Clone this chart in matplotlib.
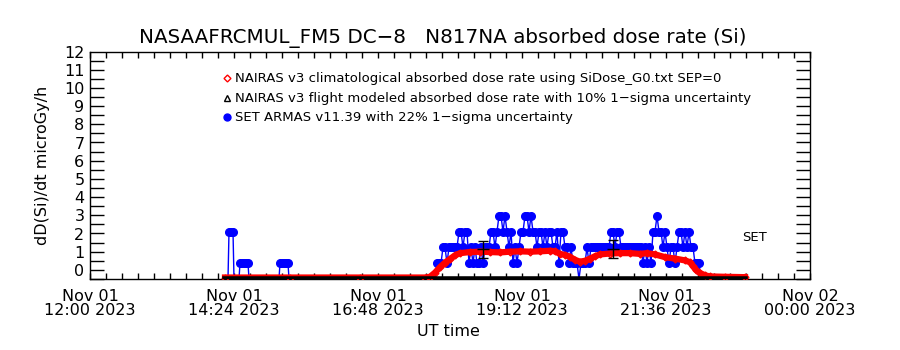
import matplotlib
matplotlib.use("Agg")
import matplotlib.pyplot as plt
import numpy as np
from matplotlib.ticker import MultipleLocator

# time axis in minutes after Nov 01 12:00 UT
major_ticks = [0, 144, 288, 432, 576, 720]
major_labels = ["Nov 01\n12:00 2023", "Nov 01\n14:24 2023", "Nov 01\n16:48 2023",
                "Nov 01\n19:12 2023", "Nov 01\n21:36 2023", "Nov 02\n00:00 2023"]

# NAIRAS v3 climatological absorbed dose rate (red)
clim_t = [135, 200, 270, 335, 340, 345, 350, 355, 360, 365, 370, 380, 390, 400, 410,
          420, 430, 440, 450, 460, 465, 470, 475, 480, 485, 490, 495, 500, 505, 510,
          520, 530, 540, 550, 557, 565, 575, 585, 595, 600, 603, 606, 610, 615, 620,
          635, 655]
clim_v = [0.08, 0.08, 0.08, 0.08, 0.12, 0.35, 0.65, 0.9, 1.1, 1.3, 1.42, 1.48, 1.5,
          1.48, 1.46, 1.5, 1.52, 1.5, 1.52, 1.55, 1.52, 1.38, 1.32, 1.22, 1.05, 0.95,
          1.0, 1.12, 1.25, 1.35, 1.4, 1.42, 1.42, 1.38, 1.42, 1.35, 1.2, 1.12, 1.02,
          0.92, 0.7, 0.5, 0.33, 0.2, 0.14, 0.12, 0.1]

# NAIRAS v3 flight modeled (black)
model_t = [135, 655]
model_v = [0.0, 0.0]
err_t = [393, 523]
err_v = [1.63, 1.64]
err_e = [0.48, 0.5]

# SET ARMAS v11.39 (blue)
set_t = [138, 139, 141, 143, 144, 149, 150, 152, 154, 156, 158, 159, 189, 190, 192,
         194, 196, 198, 199, 345, 347, 349, 351, 353, 355, 357, 359, 361, 363, 365, 367,
         369, 371, 373, 375, 377, 379, 381, 383, 385, 387, 389, 391, 393, 395, 397, 399,
         401, 403, 405, 407, 409, 411, 413, 415, 417, 419, 421, 423, 425, 427, 429, 431,
         433, 435, 437, 439, 441, 443, 445, 447, 449, 451, 453, 455, 457, 459, 461, 463,
         465, 467, 469, 471, 473, 475, 477, 479, 481, 483, 485, 487, 489, 491, 493, 495,
         497, 499, 501, 503, 505, 507, 509, 511, 513, 515, 517, 519, 521, 523, 525, 527,
         529, 531, 533, 535, 537, 539, 541, 543, 545, 547, 549, 551, 553, 555, 557, 559,
         561, 563, 565, 567, 569, 571, 573, 575, 577, 579, 581, 583, 585, 587, 589, 591,
         593, 595, 597, 599, 601, 603, 605, 607, 609, 611]
set_v = [0, 2.6, 2.6, 2.6, 0, 0, 0.87, 0.87, 0.87, 0.87, 0.87, 0, 0, 0.87, 0.87,
         0.87, 0.87, 0.87, 0, 0, 0.87, 0.87, 0.87, 1.74, 1.74, 0.87, 1.74, 1.74, 1.74, 1.74, 1.74,
         2.6, 2.6, 1.74, 2.6, 2.6, 0.87, 1.74, 0.87, 1.74, 0.87, 0.87, 1.74, 0.87, 1.74, 1.74, 1.74,
         2.6, 2.6, 1.74, 2.6, 3.47, 3.47, 2.6, 3.47, 2.6, 1.74, 2.6, 0.87, 1.74, 0.87, 1.74, 2.6,
         2.6, 3.47, 3.47, 2.6, 3.47, 2.6, 2.6, 1.74, 2.6, 2.6, 1.74, 2.6, 1.74, 2.6, 2.6, 1.74,
         1.74, 2.6, 0.87, 2.6, 2.6, 1.74, 1.74, 0.87, 1.74, 0.87, 0.87, 0.87, 0, 0.87, 0.87, 0.87,
         1.74, 0.87, 1.74, 1.74, 1.74, 1.74, 1.74, 1.74, 1.74, 1.74, 1.74, 1.74, 2.6, 2.6, 1.74, 2.6,
         2.6, 1.74, 1.74, 1.74, 1.74, 1.74, 1.74, 1.74, 1.74, 1.74, 1.74, 1.74, 0.87, 1.74, 0.87, 1.74,
         0.87, 2.6, 2.6, 3.47, 2.6, 2.6, 1.74, 2.6, 1.74, 0.87, 1.74, 1.74, 0.87, 1.74, 2.6, 2.6,
         1.74, 2.6, 1.74, 2.6, 1.74, 1.74, 0.87, 0.87, 0.87, 0]

legend_texts = ["NAIRAS v3 climatological absorbed dose rate using SiDose_G0.txt SEP=0",
                "NAIRAS v3 flight modeled absorbed dose rate with 10% 1\u2212sigma uncertainty",
                "SET ARMAS v11.39 with 22% 1\u2212sigma uncertainty"]

plt.rcParams['font.family'] = ['DejaVu Sans']
fig = plt.figure(figsize=(9, 3.5), dpi=100)
ax = fig.add_axes([0.1, 0.2029, 0.8, 0.6485])

# line through every sample, dots only where there is a count
ax.plot(set_t, set_v, color='blue', lw=1, zorder=2)
ax.plot(set_t, np.ma.masked_equal(set_v, 0), ls='none', marker='o', ms=5.5,
        mec='blue', mfc='blue', zorder=2)
ax.plot(clim_t, clim_v, color='red', lw=4.5, zorder=3)
ax.plot(clim_t, clim_v, ls='none', marker='D', ms=3.5, mfc='none', mec='red', zorder=3)
ax.plot(model_t, model_v, color='black', lw=4, zorder=4)
ax.errorbar(err_t, err_v, yerr=err_e, fmt='_', color='black', ms=8, capsize=3.5,
            elinewidth=1, capthick=1, zorder=5)

ax.set_xlim(0, 720)
ax.set_ylim(0, 12.47)
ax.set_xticks(major_ticks)
ax.set_xticklabels(major_labels, fontsize=11.5, linespacing=0.95)
ax.xaxis.set_minor_locator(MultipleLocator(16))
ax.set_yticks(range(13))
ax.set_yticklabels([str(i) for i in range(13)], fontsize=11.5)
ax.yaxis.set_minor_locator(MultipleLocator(0.5))
for lab in ax.get_yticklabels():
    lab.set_va('bottom')
ax.tick_params(axis='x', which='both', direction='in', top=True, length=4, width=1, pad=7)
ax.tick_params(axis='y', which='both', direction='in', right=True, length=10, width=1, pad=4)
for s in ax.spines.values():
    s.set_linewidth(1)

ax.set_ylabel("dD(Si)/dt microGy/h", fontsize=11.5, labelpad=10)
fig.text(448 / 900, 1 - 332 / 350, "UT time", fontsize=11.5, ha='center', va='center')
fig.text(443 / 900, 1 - 38 / 350, "NASAAFRCMUL_FM5 DC\u22128   N817NA absorbed dose rate (Si)",
         fontsize=14.3, ha='center', va='center')

# legend drawn by hand like the original
leg_y = [(279 - 78) / 227, (279 - 98) / 227, (279 - 117) / 227]
leg_mk = [dict(marker='D', ms=3.5, mfc='white', mec='red'),
          dict(marker='^', ms=4, mfc='white', mec='black'),
          dict(marker='o', ms=5, mfc='blue', mec='blue')]
for yy, txt, mk in zip(leg_y, legend_texts, leg_mk):
    ax.plot([0.19], [yy], transform=ax.transAxes, clip_on=False, ls='none', **mk)
    ax.text(0.2015, yy, txt, transform=ax.transAxes, fontsize=9.5, va='center', ha='left')

ax.text(652, 2.3, "SET", fontsize=9.5, va='center', ha='left')

fig.savefig("out.png", dpi=100)
